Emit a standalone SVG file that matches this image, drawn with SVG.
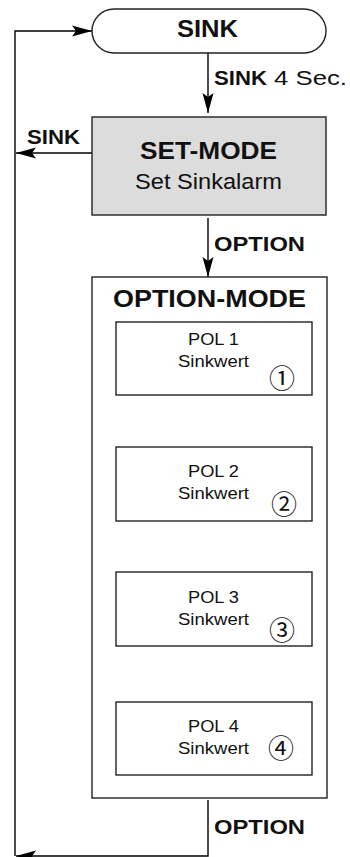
<svg xmlns="http://www.w3.org/2000/svg" width="350" height="857" viewBox="0 0 350 857">
<defs>
<style>
.box{fill:#ffffff;stroke:#222;stroke-width:1.4}
.gray{fill:#dcdcdc;stroke:#222;stroke-width:1.4}
.ln{fill:none;stroke:#000;stroke-width:1.4}
.b{font-family:"Liberation Sans",Arial,sans-serif;font-weight:bold;fill:#111}
.r{font-family:"Liberation Sans",Arial,sans-serif;fill:#111}
.c{font-family:"Noto Sans CJK JP","DejaVu Sans",sans-serif;fill:#111;text-anchor:middle;font-size:26px}
</style>
<marker id="ah" markerUnits="userSpaceOnUse" markerWidth="22" markerHeight="12" viewBox="-21 -6 22 12" refX="0" refY="0" orient="auto">
<path d="M0,0 L-20,-5.5 L-16,0 L-20,5.5 Z" fill="#000"/>
</marker>
</defs>
<rect width="350" height="857" fill="#ffffff"/>

<g id="connectors">
<path class="ln" d="M208,53 V113" marker-end="url(#ah)"/>
<path class="ln" d="M208,218 V277" marker-end="url(#ah)"/>
<path class="ln" d="M92,153 H16" marker-end="url(#ah)"/>
<path class="ln" d="M208,396 V447" marker-end="url(#ah)"/>
<path class="ln" d="M208,521 V572" marker-end="url(#ah)"/>
<path class="ln" d="M208,649 V702" marker-end="url(#ah)"/>
<path class="ln" d="M208,800 V856 H16" marker-end="url(#ah)"/>
<path class="ln" d="M15,856 V31 H92" marker-end="url(#ah)"/>
<text class="b" x="214" y="85" font-size="20" textLength="53" lengthAdjust="spacingAndGlyphs">SINK</text>
<text class="r" x="274" y="85" font-size="20" textLength="73" lengthAdjust="spacingAndGlyphs">4 Sec.</text>
<text class="b" x="27" y="144" font-size="21" textLength="53" lengthAdjust="spacingAndGlyphs">SINK</text>
<text class="b" x="214" y="251" font-size="21" textLength="91" lengthAdjust="spacingAndGlyphs">OPTION</text>
<text class="b" x="214" y="834" font-size="21" textLength="91" lengthAdjust="spacingAndGlyphs">OPTION</text>
</g>

<g id="sink">
<rect class="box" x="92" y="9" width="234" height="44" rx="22" ry="22"/>
<text class="b" x="177" y="37" font-size="23" textLength="61" lengthAdjust="spacingAndGlyphs">SINK</text>
</g>

<g id="set-mode">
<rect class="gray" x="92" y="117" width="234" height="98"/>
<text class="b" x="140" y="159" font-size="24" textLength="137" lengthAdjust="spacingAndGlyphs">SET-MODE</text>
<text class="r" x="135" y="189" font-size="22" textLength="147" lengthAdjust="spacingAndGlyphs">Set Sinkalarm</text>
</g>

<g id="option-mode">
<rect class="box" x="92" y="277" width="235" height="521"/>
<text class="b" x="113" y="307" font-size="24" textLength="193" lengthAdjust="spacingAndGlyphs">OPTION-MODE</text>
</g>

<g id="pol1">
<rect class="box" x="116" y="322" width="196" height="73"/>
<text class="r" x="188" y="345" font-size="17" textLength="51" lengthAdjust="spacingAndGlyphs">POL 1</text>
<text class="r" x="178" y="367" font-size="17" textLength="71" lengthAdjust="spacingAndGlyphs">Sinkwert</text>
<text class="c" x="282" y="388">①</text>
</g>

<g id="pol2">
<rect class="box" x="116" y="447" width="196" height="74"/>
<text class="r" x="188" y="477" font-size="17" textLength="51" lengthAdjust="spacingAndGlyphs">POL 2</text>
<text class="r" x="178" y="499" font-size="17" textLength="71" lengthAdjust="spacingAndGlyphs">Sinkwert</text>
<text class="c" x="284" y="514">②</text>
</g>

<g id="pol3">
<rect class="box" x="116" y="572" width="196" height="74"/>
<text class="r" x="188" y="603" font-size="17" textLength="51" lengthAdjust="spacingAndGlyphs">POL 3</text>
<text class="r" x="178" y="625" font-size="17" textLength="71" lengthAdjust="spacingAndGlyphs">Sinkwert</text>
<text class="c" x="282" y="640">③</text>
</g>

<g id="pol4">
<rect class="box" x="116" y="702" width="196" height="73"/>
<text class="r" x="188" y="732" font-size="17" textLength="51" lengthAdjust="spacingAndGlyphs">POL 4</text>
<text class="r" x="178" y="754" font-size="17" textLength="71" lengthAdjust="spacingAndGlyphs">Sinkwert</text>
<text class="c" x="281" y="758">④</text>
</g>
</svg>
